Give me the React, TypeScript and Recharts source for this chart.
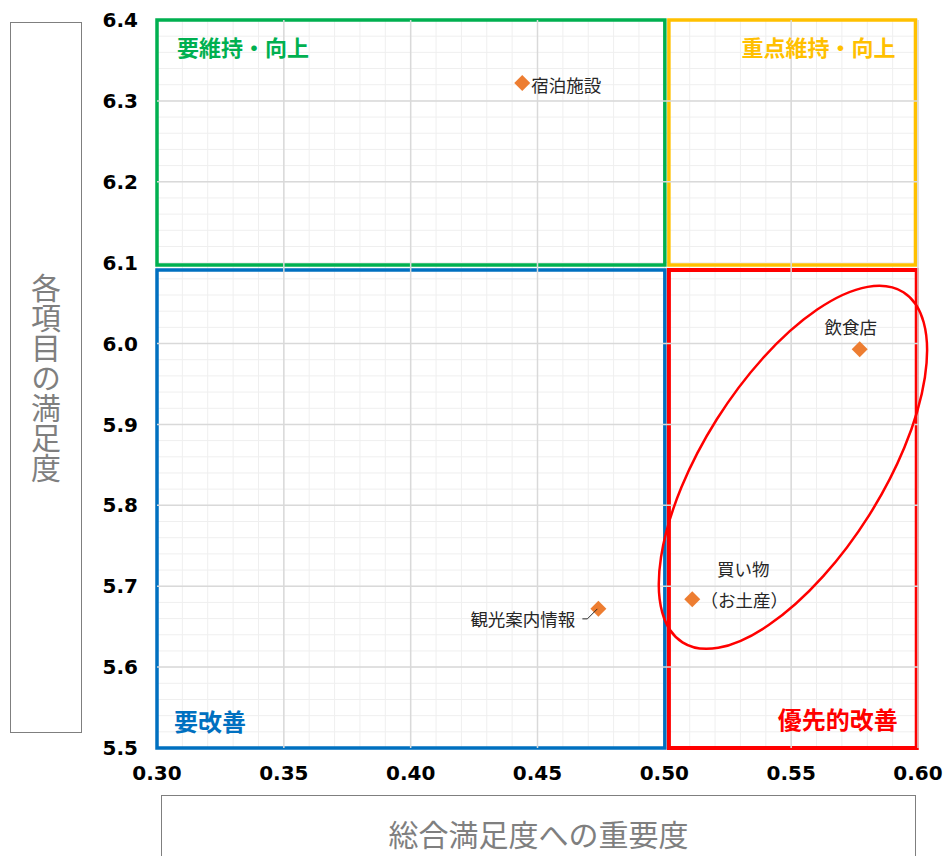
import React from "react";
import {
  ScatterChart,
  Scatter,
  XAxis,
  YAxis,
  CartesianGrid,
  ReferenceArea,
  ReferenceLine,
  ReferenceDot,
} from "recharts";

const categories = ["宿泊施設", "飲食店", "買い物（お土産）", "観光案内情報"];
const importance = [0.444, 0.577, 0.511, 0.474];
const satisfaction = [6.322, 5.993, 5.684, 5.672];

const xMajorTicks = [0.3, 0.35, 0.4, 0.45, 0.5, 0.55, 0.6];
const yMajorTicks = [5.5, 5.6, 5.7, 5.8, 5.9, 6.0, 6.1, 6.2, 6.3, 6.4];
const xMinorTicks = [
  0.3, 0.31, 0.32, 0.33, 0.34, 0.35, 0.36, 0.37, 0.38, 0.39, 0.4, 0.41, 0.42, 0.43, 0.44, 0.45,
  0.46, 0.47, 0.48, 0.49, 0.5, 0.51, 0.52, 0.53, 0.54, 0.55, 0.56, 0.57, 0.58, 0.59, 0.6,
];
const yMinorTicks = [
  5.5, 5.52, 5.54, 5.56, 5.58, 5.6, 5.62, 5.64, 5.66, 5.68, 5.7, 5.72, 5.74, 5.76, 5.78, 5.8,
  5.82, 5.84, 5.86, 5.88, 5.9, 5.92, 5.94, 5.96, 5.98, 6.0, 6.02, 6.04, 6.06, 6.08, 6.1, 6.12,
  6.14, 6.16, 6.18, 6.2, 6.22, 6.24, 6.26, 6.28, 6.3, 6.32, 6.34, 6.36, 6.38, 6.4,
];

// quadrant box edges (these cover the major grid lines there)
const boxEdgesX = [0.3, 0.5];
const boxEdgesY = [5.5, 6.1, 6.4];

const quadrants = [
  { label: "要維持・向上", color: "#00B050", x1: 0.3, x2: 0.5002, y1: 6.097, y2: 6.4, pos: "insideTopLeft", size: 22 },
  { label: "重点維持・向上", color: "#FFC000", x1: 0.5018, x2: 0.599, y1: 6.097, y2: 6.4, pos: "insideTopRight", size: 22 },
  { label: "要改善", color: "#0070C0", x1: 0.3, x2: 0.5002, y1: 5.5, y2: 6.091, pos: "insideBottomLeft", size: 24 },
  { label: "優先的改善", color: "#FF0000", x1: 0.5018, x2: 0.5995, y1: 5.5, y2: 6.091, pos: "insideBottomRight", size: 24 },
];

const points = categories.map((name, i) => ({ name, x: importance[i], y: satisfaction[i] }));

const JP = "'Noto Sans CJK JP', sans-serif";
const near = (a: number, b: number) => Math.abs(a - b) < 1e-6;

function PointShape(props: any) {
  const { cx, cy, payload } = props;
  const d = 8;
  const txt = { fontFamily: JP, fontSize: 17.5, fill: "#262626", dominantBaseline: "central" as const };
  let label: React.ReactNode = null;
  if (payload.name === "宿泊施設") {
    label = <text x={cx + 9} y={cy + 1} {...txt}>{payload.name}</text>;
  } else if (payload.name === "飲食店") {
    label = <text x={cx - 9} y={cy - 23} textAnchor="middle" {...txt}>{payload.name}</text>;
  } else if (payload.name === "買い物（お土産）") {
    label = (
      <g>
        <text x={cx + 51} y={cy - 31} textAnchor="middle" {...txt}>買い物</text>
        <text x={cx + 52} y={cy} textAnchor="middle" {...txt}>（お土産）</text>
      </g>
    );
  } else {
    label = (
      <g>
        <text x={cx - 23} y={cy + 10} textAnchor="end" {...txt}>{payload.name}</text>
        <polyline
          points={`${cx - 16},${cy + 10} ${cx - 11},${cy + 10} ${cx - 1},${cy}`}
          fill="none"
          stroke="#262626"
          strokeWidth={1}
        />
      </g>
    );
  }
  return (
    <g>
      <polygon points={`${cx},${cy - d} ${cx + d},${cy} ${cx},${cy + d} ${cx - d},${cy}`} fill="#ED7D31" />
      {label}
    </g>
  );
}

export default function App() {
  return (
    <div style={{ position: "absolute", left: 0, top: 0, width: 948, height: 856, background: "#fff", overflow: "hidden" }}>
      <ScatterChart width={948} height={856} margin={{ top: 20, right: 30, left: 0, bottom: 0 }}>
        <CartesianGrid stroke="#efefef" strokeWidth={1} />
        <XAxis
          type="number"
          dataKey="x"
          domain={[0.3, 0.6]}
          ticks={xMinorTicks}
          interval={0}
          height={108}
          axisLine={false}
          tickLine={false}
          tickSize={0}
          tickMargin={18}
          tick={{ fill: "#000", fontSize: 20, fontWeight: "bold", fontFamily: "DejaVu Sans" }}
          tickFormatter={(v: number) => (xMajorTicks.some((t) => near(t, v)) ? v.toFixed(2) : "")}
        />
        <YAxis
          type="number"
          dataKey="y"
          domain={[5.5, 6.4]}
          ticks={yMinorTicks}
          interval={0}
          width={157}
          axisLine={false}
          tickLine={false}
          tickSize={0}
          tickMargin={19}
          tick={{ fill: "#000", fontSize: 20, fontWeight: "bold", fontFamily: "DejaVu Sans" }}
          tickFormatter={(v: number) => (yMajorTicks.some((t) => near(t, v)) ? v.toFixed(1) : "")}
        />
        {xMajorTicks
          .filter((t) => !boxEdgesX.some((e) => near(e, t)))
          .map((t) => (
            <ReferenceLine key={"vx" + t} x={t} stroke="#d9d9d9" strokeWidth={1.5} />
          ))}
        {yMajorTicks
          .filter((t) => !boxEdgesY.some((e) => near(e, t)))
          .map((t) => (
            <ReferenceLine key={"hy" + t} y={t} stroke="#d9d9d9" strokeWidth={1.5} />
          ))}
        {quadrants.map((q) => (
          <ReferenceArea
            key={q.label}
            x1={q.x1}
            x2={q.x2}
            y1={q.y1}
            y2={q.y2}
            fill="none"
            fillOpacity={0}
            stroke={q.color}
            strokeWidth={q.color === "#FF0000" ? 4 : 3.5}
            label={{
              value: q.label,
              position: q.pos as any,
              offset: q.pos.startsWith("insideTop") ? 20 : q.pos === "insideBottomRight" ? 19 : 17,
              fill: q.color,
              fontSize: q.size,
              fontWeight: "bold",
              fontFamily: JP,
            }}
          />
        ))}
        <ReferenceDot
          x={0.5507}
          y={5.847}
          r={1}
          shape={(p: any) => (
            <ellipse
              cx={p.cx}
              cy={p.cy}
              rx={207}
              ry={90}
              transform={`rotate(-57.75 ${p.cx} ${p.cy})`}
              fill="none"
              stroke="#FF0000"
              strokeWidth={2.5}
            />
          )}
        />
        <Scatter data={points} isAnimationActive={false} shape={PointShape} />
      </ScatterChart>
      <div
        style={{
          position: "absolute",
          left: 10,
          top: 22,
          width: 72,
          height: 711,
          boxSizing: "border-box",
          border: "1.5px solid #7f7f7f",
          display: "flex",
          alignItems: "center",
          justifyContent: "center",
        }}
      >
        <span style={{ writingMode: "vertical-rl", fontFamily: JP, fontSize: 30, color: "#7f7f7f", lineHeight: "32px" }}>
          各項目の満足度
        </span>
      </div>
      <div
        style={{
          position: "absolute",
          left: 161,
          top: 795,
          width: 755,
          height: 80,
          boxSizing: "border-box",
          border: "1.5px solid #7f7f7f",
          textAlign: "center",
          paddingTop: 17,
          fontFamily: JP,
          fontSize: 30,
          lineHeight: "40px",
          color: "#7f7f7f",
        }}
      >
        総合満足度への重要度
      </div>
    </div>
  );
}
